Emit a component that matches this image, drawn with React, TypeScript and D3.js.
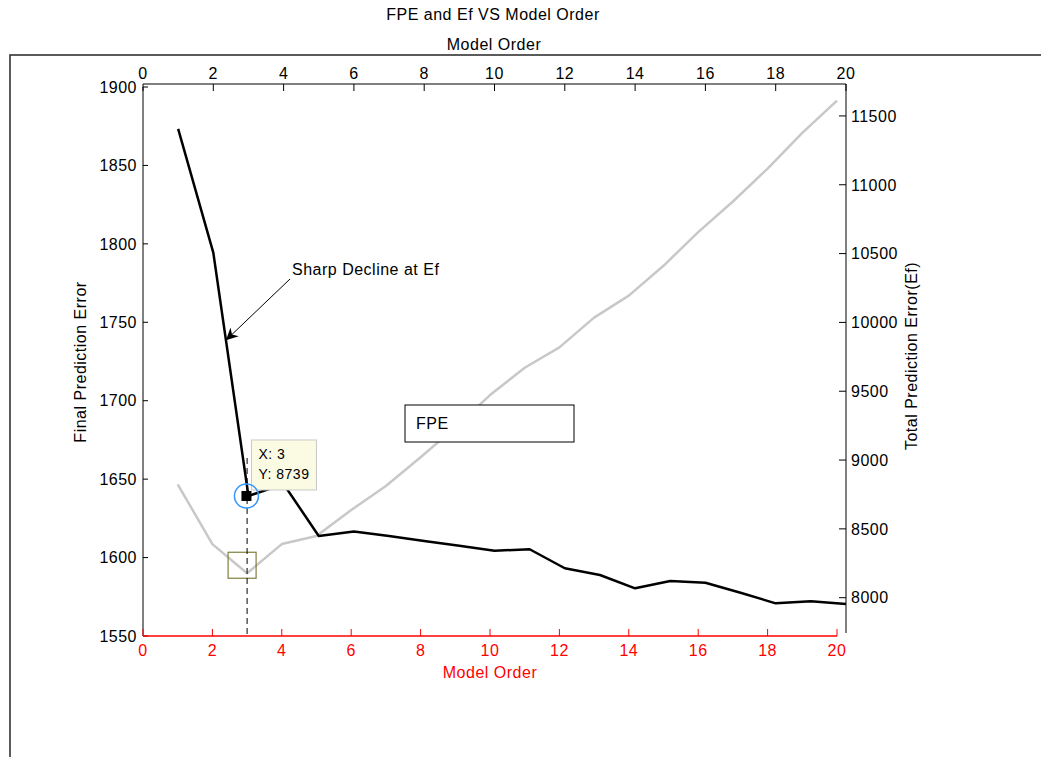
import React from "react";
import * as d3 from "d3";

// Model orders shared by both series
const modelOrder = [1, 2, 3, 4, 5, 6, 7, 8, 9, 10, 11, 12, 13, 14, 15, 16, 17, 18, 19, 20];
// Final Prediction Error (left axis, bottom red x axis)
const fpeValues = [1646.7, 1608.6, 1590, 1608.6, 1613.7, 1630.3, 1645.6, 1664, 1683, 1703.6, 1721, 1734, 1753, 1767, 1786, 1807.5, 1827, 1848, 1870.7, 1891.3];
// Total Prediction Error Ef (right axis, top x axis)
const efValues = [11406, 10507, 8739, 8826, 8448, 8481, 8448, 8412, 8378, 8341, 8352, 8214, 8165, 8068, 8121, 8109, 8036, 7959, 7974, 7954];

const xTicks = [0, 2, 4, 6, 8, 10, 12, 14, 16, 18, 20];
const fpeTicks = [1550, 1600, 1650, 1700, 1750, 1800, 1850, 1900];
const efTicks = [8000, 8500, 9000, 9500, 10000, 10500, 11000, 11500];

const tipIndex = 2; // data tip on model order 3
const FONT = "'Liberation Sans', Arial, Helvetica, sans-serif";
const RED = "#ff0000";

export default function App() {
  const x1 = d3.scaleLinear().domain([0, 20]).range([143, 837]);
  const y1 = d3.scaleLinear().domain([1550, 1900]).range([636, 87]);
  const x2 = d3.scaleLinear().domain([0, 20]).range([143, 846]);
  const y2 = d3.scaleLinear().domain([7743.5, 11732]).range([633, 84]);

  const fpeLine = d3
    .line<number>()
    .x((_, i) => x1(modelOrder[i]))
    .y((d) => y1(d));
  const efLine = d3
    .line<number>()
    .x((_, i) => x2(modelOrder[i]))
    .y((d) => y2(d));

  const tipX = x2(modelOrder[tipIndex]);
  const tipY = y2(efValues[tipIndex]);

  // arrow tip lands on the Ef segment between orders 2 and 3
  const t = 0.36;
  const arrowX = x2(modelOrder[1] + t * (modelOrder[2] - modelOrder[1]));
  const arrowY = y2(efValues[1] + t * (efValues[2] - efValues[1]));

  const minX = x1(modelOrder[tipIndex]);
  const minY = y1(fpeValues[tipIndex]);

  const textStyle: React.CSSProperties = {
    fontFamily: FONT,
    fontSize: 16,
    letterSpacing: "0.5px",
  };

  return (
    <svg
      width={1041}
      height={757}
      style={{ position: "absolute", left: 0, top: 0, background: "#fff" }}
    >
      <defs>
        <marker
          id="arrowHead"
          viewBox="0 0 10 10"
          refX="10"
          refY="5"
          markerWidth="12"
          markerHeight="12"
          markerUnits="userSpaceOnUse"
          orient="auto"
        >
          <path d="M0,0 L10,5 L0,10 L3,5 Z" fill="#000" />
        </marker>
      </defs>

      <g style={textStyle}>
        {/* figure panel border */}
        <rect x={10} y={55} width={1100} height={800} fill="none" stroke="#333" strokeWidth={1.6} />

        <text x={493} y={20} textAnchor="middle" fill="#000">
          FPE and Ef VS Model Order
        </text>
        <text x={494} y={50} textAnchor="middle" fill="#000">
          Model Order
        </text>

        {/* top x axis (Ef) */}
        <line x1={x2(0)} x2={x2(20)} y1={84} y2={84} stroke="#000" strokeWidth={1} />
        {xTicks.map((v) => (
          <g key={"tx" + v}>
            <line x1={x2(v)} x2={x2(v)} y1={84} y2={91} stroke="#000" />
            <text x={x2(v)} y={79} textAnchor="middle" fill="#000">
              {v}
            </text>
          </g>
        ))}

        {/* right y axis (Ef) */}
        <line x1={846} x2={846} y1={84} y2={633} stroke="#000" />
        {efTicks.map((v) => (
          <g key={"ry" + v}>
            <line x1={839} x2={846} y1={y2(v)} y2={y2(v)} stroke="#000" />
            <text x={851} y={y2(v)} dy="0.36em" textAnchor="start" fill="#000">
              {v}
            </text>
          </g>
        ))}
        <text
          transform={`translate(917, 356) rotate(-90)`}
          textAnchor="middle"
          fill="#000"
        >
          Total Prediction Error(Ef)
        </text>

        {/* left y axis (FPE) */}
        <line x1={143} x2={143} y1={87} y2={636} stroke="#000" />
        {fpeTicks.map((v) => (
          <g key={"ly" + v}>
            <line x1={143} x2={148} y1={y1(v)} y2={y1(v)} stroke="#000" />
            <text x={137} y={y1(v)} dy="0.36em" textAnchor="end" fill="#000">
              {v}
            </text>
          </g>
        ))}
        <text
          transform={`translate(86, 362) rotate(-90)`}
          textAnchor="middle"
          fill="#000"
        >
          Final Prediction Error
        </text>

        {/* bottom x axis (FPE), red */}
        <line x1={x1(0)} x2={x1(20)} y1={636} y2={636} stroke={RED} strokeWidth={1.5} />
        {xTicks.map((v) => (
          <g key={"bx" + v}>
            <line x1={x1(v)} x2={x1(v)} y1={636} y2={629} stroke={RED} />
            <text x={x1(v)} y={656} textAnchor="middle" fill={RED}>
              {v}
            </text>
          </g>
        ))}
        <text x={490} y={678} textAnchor="middle" fill={RED}>
          Model Order
        </text>

        {/* series */}
        <path d={fpeLine(fpeValues) || ""} fill="none" stroke="#c8c8c8" strokeWidth={2.5} strokeLinejoin="round" />
        <path d={efLine(efValues) || ""} fill="none" stroke="#000" strokeWidth={2.5} strokeLinejoin="round" />

        {/* FPE minimum marker box */}
        <rect x={minX - 19} y={minY - 21} width={28} height={26} fill="none" stroke="#7f7f3f" strokeWidth={1.2} />

        {/* dashed guide at order 3 */}
        <line x1={minX} x2={minX} y1={tipY - 38} y2={636} stroke="#000" strokeWidth={1} strokeDasharray="6,4" />

        {/* annotation */}
        <line x1={290} y1={279} x2={arrowX} y2={arrowY} stroke="#000" strokeWidth={1} markerEnd="url(#arrowHead)" />
        <text x={292} y={275} fill="#000">
          Sharp Decline at Ef
        </text>

        {/* legend-style box */}
        <rect x={405} y={405} width={169} height={37} fill="#fff" stroke="#000" strokeWidth={1} />
        <text x={416} y={429} fill="#000">
          FPE
        </text>

        {/* data tip */}
        <rect x={tipX + 3} y={tipY - 56} width={65} height={50} fill="#fbfbe3" stroke="#c8c8c8" strokeWidth={1} />
        <text x={tipX + 10} y={tipY - 37} fill="#000" style={{ fontSize: 14 }}>
          X: {modelOrder[tipIndex]}
        </text>
        <text x={tipX + 10} y={tipY - 17} fill="#000" style={{ fontSize: 14 }}>
          Y: {efValues[tipIndex]}
        </text>
        <circle cx={tipX - 2} cy={tipY} r={12} fill="none" stroke="#3399ff" strokeWidth={1.5} />
        <rect x={tipX - 7} y={tipY - 5} width={10} height={10} fill="#000" />
      </g>
    </svg>
  );
}
